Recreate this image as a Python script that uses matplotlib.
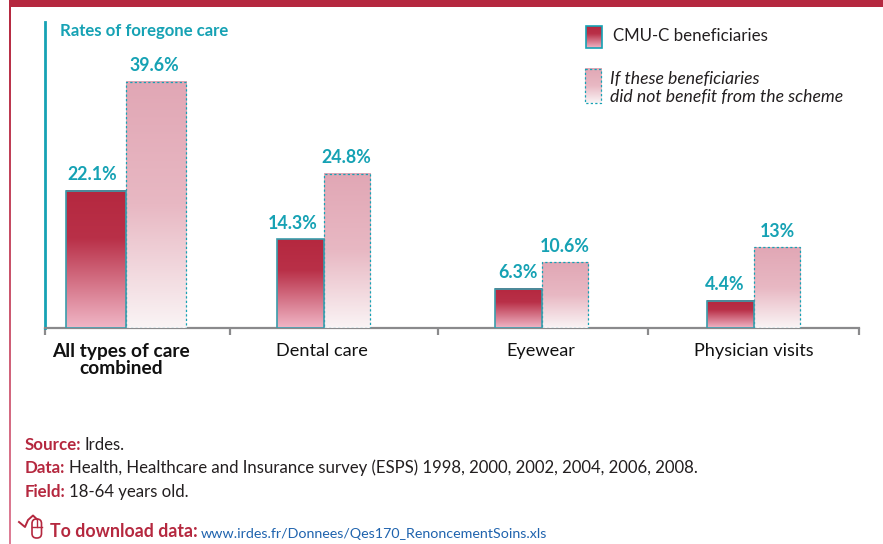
import numpy as np
import matplotlib
matplotlib.use('Agg')
import matplotlib.pyplot as plt
from matplotlib.colors import LinearSegmentedColormap
from matplotlib.patches import FancyBboxPatch, Rectangle

categories = ['All types of care\ncombined', 'Dental care', 'Eyewear', 'Physician visits']
cmu_values = [22.1, 14.3, 6.3, 4.4]
without_values = [39.6, 24.8, 10.6, 13.0]
cmu_labels = ['22.1%', '14.3%', '6.3%', '4.4%']
without_labels = ['39.6%', '24.8%', '10.6%', '13%']

CRIMSON = '#B5283F'
TEAL = '#16A2B4'
EDGE = '#3A9DAC'
DARK = '#231F20'
FONT = 'Lato'

plt.rcParams['font.family'] = [FONT, 'DejaVu Sans']

W, H = 883, 544
fig = plt.figure(figsize=(W / 100, H / 100), dpi=100)

cmap_cmu = LinearSegmentedColormap.from_list('cmu', [(0, CRIMSON), (0.35, '#B93048'), (1, '#F0B6C6')])
cmap_without = LinearSegmentedColormap.from_list('wo', [(0, '#E1A7B5'), (0.5, '#E8B8C3'), (1, '#FAF4F5')])
grad = np.linspace(0, 1, 256).reshape(-1, 1)

# page furniture, in pixel coordinates
bg = fig.add_axes([0, 0, 1, 1])
bg.set_axis_off()
bg.imshow(grad, cmap=LinearSegmentedColormap.from_list('side', [CRIMSON, '#DE7F97']),
          extent=[9, 10.5, 544, 0], aspect='auto')
bg.add_patch(Rectangle((9, 0), W - 9, 6.5, color=CRIMSON, lw=0))
bg.set_xlim(0, W)
bg.set_ylim(H, 0)

# chart axes: 44..859 px wide, baseline at y=328, about 6.22 px per percentage point
ax = fig.add_axes([44.5 / W, 1 - 328 / H, (859 - 44.5) / W, (328 - 22) / H])
ax.patch.set_alpha(0)
ax.set_xlim(44.5, 859)
ax.set_ylim(0, 306 / 6.22)
for side in ['top', 'right']:
    ax.spines[side].set_visible(False)
ax.spines['left'].set_color(TEAL)
ax.spines['left'].set_linewidth(2)
ax.spines['bottom'].set_color('#8A8A8C')
ax.spines['bottom'].set_linewidth(1.6)
ax.set_yticks([])

ax.set_xticks([45, 230, 438, 648, 859])
ax.set_xticklabels([])
ax.tick_params(axis='x', which='major', length=5, width=1.6, color='#8A8A8C')
ax.set_xticks([121, 322, 541, 754], minor=True)
ax.set_xticklabels(categories, minor=True, fontsize=13.1, color='#111111', linespacing=1.0)
ax.tick_params(axis='x', which='minor', length=0, pad=11)
first = ax.get_xticklabels(minor=True)[0]
first.set_fontweight('bold')
first.set_fontsize(13.8)

# x layout of the bars: left edge of first bar, width of one bar
lefts = [65.5, 277.5, 495.5, 707.5]
widths = [60.3, 46.3, 46.3, 46.3]
cmu_label_x = [92, 293, 518, 725]
without_label_x = [154, 346, 565, 777]

for i in range(len(categories)):
    x0, w = lefts[i], widths[i]
    ax.imshow(grad, cmap=cmap_cmu, extent=[x0, x0 + w, 0, cmu_values[i]], aspect='auto', zorder=3)
    ax.add_patch(Rectangle((x0, 0), w, cmu_values[i], fill=False, ec=EDGE, lw=1.2, zorder=5))
    ax.imshow(grad, cmap=cmap_without, extent=[x0 + w, x0 + 2 * w, 0, without_values[i]], aspect='auto', zorder=3)
    ax.add_patch(Rectangle((x0 + w, 0), w, without_values[i], fill=False, ec=TEAL, lw=0.9,
                           ls=(0, (1.8, 1.8)), zorder=4))
    ax.annotate(cmu_labels[i], (cmu_label_x[i], cmu_values[i]), xytext=(0, 7.5), textcoords='offset points',
                ha='center', va='baseline', fontsize=12.8, fontweight='bold', color=TEAL)
    ax.annotate(without_labels[i], (without_label_x[i], without_values[i]), xytext=(0, 7.5),
                textcoords='offset points', ha='center', va='baseline', fontsize=12.8, fontweight='bold', color=TEAL)
ax.set_xlim(44.5, 859)
ax.set_ylim(0, 306 / 6.22)

# overlay for title, legend, footnotes
top = fig.add_axes([0, 0, 1, 1])
top.set_axis_off()
top.patch.set_alpha(0)
top.imshow(grad, cmap=cmap_cmu, extent=[586, 602, 48, 26], aspect='auto', zorder=2)
top.add_patch(Rectangle((586, 26), 16, 22, fill=False, ec=TEAL, lw=1.2, zorder=3))
top.imshow(grad, cmap=cmap_without, extent=[584.5, 601, 103, 68.5], aspect='auto', zorder=2)
top.add_patch(Rectangle((584.5, 68.5), 16.5, 34.5, fill=False, ec=TEAL, lw=0.9, ls=(0, (1.8, 1.8)), zorder=3))
top.set_xlim(0, W)
top.set_ylim(H, 0)

top.text(60, 36, 'Rates of foregone care', fontsize=12.1, fontweight='bold', color=TEAL, va='baseline')
top.text(613, 41, 'CMU-C beneficiaries', fontsize=12.2, color=DARK, va='baseline')
top.text(610, 84, 'If these beneficiaries', fontsize=12.7, style='italic', color=DARK, va='baseline')
top.text(610, 102, 'did not benefit from the scheme', fontsize=12.7, style='italic', color=DARK, va='baseline')


def two_part(x, y, head, tail, tail_color=DARK, head_size=12.2, size=12.1):
    t = top.text(x, y, head, fontsize=head_size, fontweight='bold', color=CRIMSON, va='baseline')
    top.annotate(tail, xy=(1, 0), xycoords=t, xytext=(2.5, 0), textcoords='offset points',
                 fontsize=size, color=tail_color, va='bottom', ha='left')


two_part(25, 450, 'Source:', 'Irdes.')
two_part(25, 473, 'Data:', 'Health, Healthcare and Insurance survey (ESPS) 1998, 2000, 2002, 2004, 2006, 2008.')
two_part(25, 497, 'Field:', '18-64 years old.')
two_part(50, 537, 'To download data:', 'www.irdes.fr/Donnees/Qes170_RenoncementSoins.xls', '#1F63AE', 12.8, 10.3)

# mouse icon
top.add_patch(FancyBboxPatch((32, 519), 9.5, 19, boxstyle='round,pad=0,rounding_size=4.5',
                             fc='none', ec=CRIMSON, lw=1.2, mutation_aspect=1))
top.plot([32, 41.5], [527, 527], color=CRIMSON, lw=1)
top.plot([36.7, 36.7], [519, 527], color=CRIMSON, lw=1)
top.plot([19, 25, 28, 33, 36.7], [522, 527, 520, 515.5, 519], color=CRIMSON, lw=1.4)

fig.savefig('out.png', dpi=100)
